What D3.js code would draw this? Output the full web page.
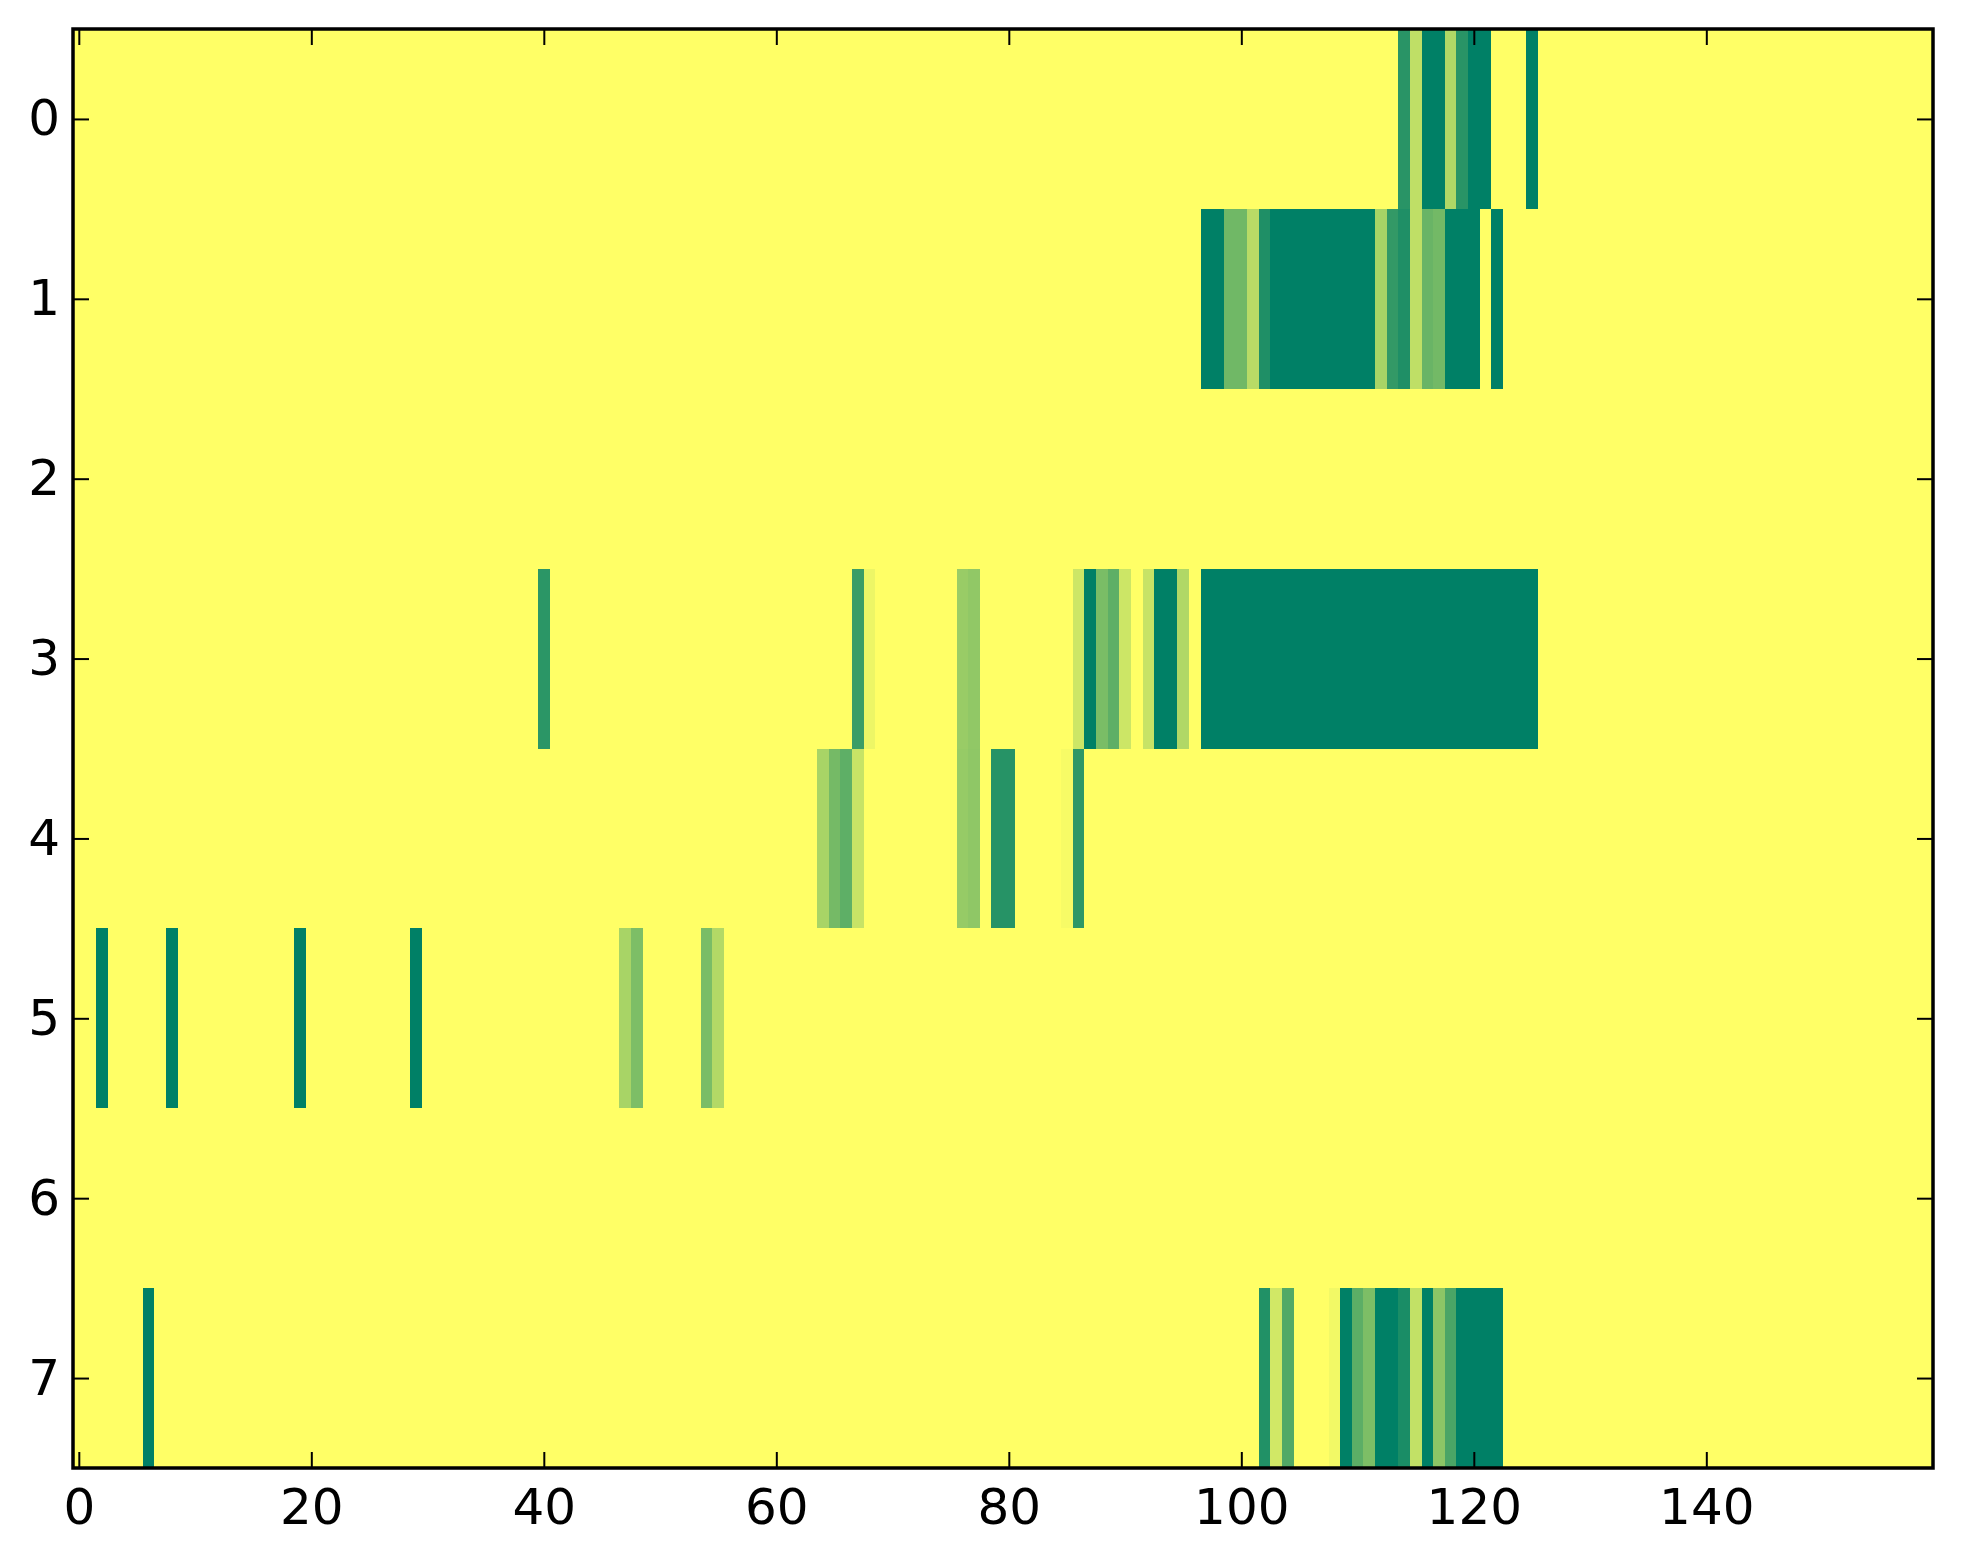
<!DOCTYPE html>
<html>
<head>
<meta charset="utf-8">
<script src="https://cdn.jsdelivr.net/npm/d3@7/dist/d3.min.js"></script>
<style>
  html, body { margin: 0; padding: 0; background: #ffffff; }
  svg { display: block; }
  text { font-family: "DejaVu Sans", sans-serif; }
</style>
</head>
<body>
<script>
// ---- DATA: nonzero cells per row as [column, value]; all other cells are 0 ----
const nCols = 160;
const rowLabels = [0, 1, 2, 3, 4, 5, 6, 7];
const xTickValues = [0, 20, 40, 60, 80, 100, 120, 140];

const row0 = [[114,0.84],[115,0.25],[116,1],[117,1],[118,0.31],[119,0.84],[120,1],[121,1],[125,1]];
const row1 = [[97,1],[98,1],[99,0.56],[100,0.56],[101,0.28],[102,0.88],[103,1],[104,1],[105,1],[106,1],
              [107,1],[108,1],[109,1],[110,1],[111,1],[112,0.34],[113,0.8],[114,0.88],[115,0.25],
              [116,0.59],[117,0.55],[118,1],[119,1],[120,1],[122,1]];
const row2 = [];
const row3 = [[40,0.83],[67,0.77],[68,0.07],[76,0.40],[77,0.43],[86,0.2],[87,1],[88,0.52],[89,0.63],
              [90,0.2],[92,0.22],[93,1],[94,1],[95,0.31],
              [97,1],[98,1],[99,1],[100,1],[101,1],[102,1],[103,1],[104,1],[105,1],[106,1],[107,1],
              [108,1],[109,1],[110,1],[111,1],[112,1],[113,1],[114,1],[115,1],[116,1],[117,1],[118,1],
              [119,1],[120,1],[121,1],[122,1],[123,1],[124,1],[125,1]];
const row4 = [[64,0.34],[65,0.54],[66,0.63],[67,0.22],[76,0.41],[77,0.44],[79,0.85],[80,0.85],[85,0.03],[86,0.82]];
const row5 = [[2,1],[8,1],[19,1],[29,1],[47,0.34],[48,0.51],[54,0.52],[55,0.3]];
const row6 = [];
const row7 = [[6,1],[102,0.87],[103,0.18],[104,0.68],[108,0.05],[109,1],[110,0.64],[111,0.51],[112,1],
              [113,1],[114,0.9],[115,0.24],[116,1],[117,0.45],[118,0.71],[119,1],[120,1],[121,1],[122,1]];
const rows = [row0, row1, row2, row3, row4, row5, row6, row7];

(function () {
  // ---- build full grid ----
  const cells = [];
  rows.forEach((r, ri) => {
    const m = new Map(r);
    for (let c = 0; c < nCols; c++) cells.push({ row: ri, col: c, v: m.has(c) ? m.get(c) : 0 });
  });

  // ---- layout ----
  const W = 1963, H = 1564;
  const pL = 73, pR = 1933, pT = 29, pB = 1468;

  const svg = d3.select("body").append("svg").attr("width", W).attr("height", H);

  const x = d3.scaleLinear().domain([-0.5, nCols - 0.5]).range([pL, pR]);
  const y = d3.scaleLinear().domain([-0.5, rowLabels.length - 0.5]).range([pT, pB]);
  // summer_r colormap
  const color = d3.scaleLinear().domain([0, 1]).range(["#ffff66", "#008066"]).interpolate(d3.interpolateRgb);

  svg.append("g").attr("shape-rendering", "crispEdges")
    .selectAll("rect").data(cells).join("rect")
    .attr("x", d => x(d.col - 0.5))
    .attr("y", d => y(d.row - 0.5))
    .attr("width", d => x(d.col + 0.5) - x(d.col - 0.5) + 0.5)
    .attr("height", d => y(d.row + 0.5) - y(d.row - 0.5) + 0.5)
    .attr("fill", d => color(d.v));

  const fs = 50, tl = 16;

  function styleAxis(g, showText) {
    g.select(".domain").remove();
    g.selectAll(".tick line").attr("stroke", "#000").attr("stroke-width", 2);
    g.selectAll(".tick text").attr("fill", "#000").style("font-size", fs + "px")
      .style("font-family", "DejaVu Sans, sans-serif");
    if (!showText) g.selectAll(".tick text").remove();
  }

  svg.append("g").attr("transform", `translate(0,${pB})`)
    .call(d3.axisBottom(x).tickValues(xTickValues).tickSizeInner(-tl).tickSizeOuter(0).tickPadding(20))
    .call(g => styleAxis(g, true));
  svg.append("g").attr("transform", `translate(0,${pT})`)
    .call(d3.axisTop(x).tickValues(xTickValues).tickSizeInner(-tl).tickSizeOuter(0))
    .call(g => styleAxis(g, false));
  svg.append("g").attr("transform", `translate(${pL},0)`)
    .call(d3.axisLeft(y).tickValues(rowLabels).tickSizeInner(-tl).tickSizeOuter(0).tickPadding(13))
    .call(g => styleAxis(g, true));
  svg.append("g").attr("transform", `translate(${pR},0)`)
    .call(d3.axisRight(y).tickValues(rowLabels).tickSizeInner(-tl).tickSizeOuter(0))
    .call(g => styleAxis(g, false));

  svg.append("rect")
    .attr("x", pL).attr("y", pT)
    .attr("width", pR - pL).attr("height", pB - pT)
    .attr("fill", "none").attr("stroke", "#000").attr("stroke-width", 3.5);
})();
</script>
</body>
</html>
